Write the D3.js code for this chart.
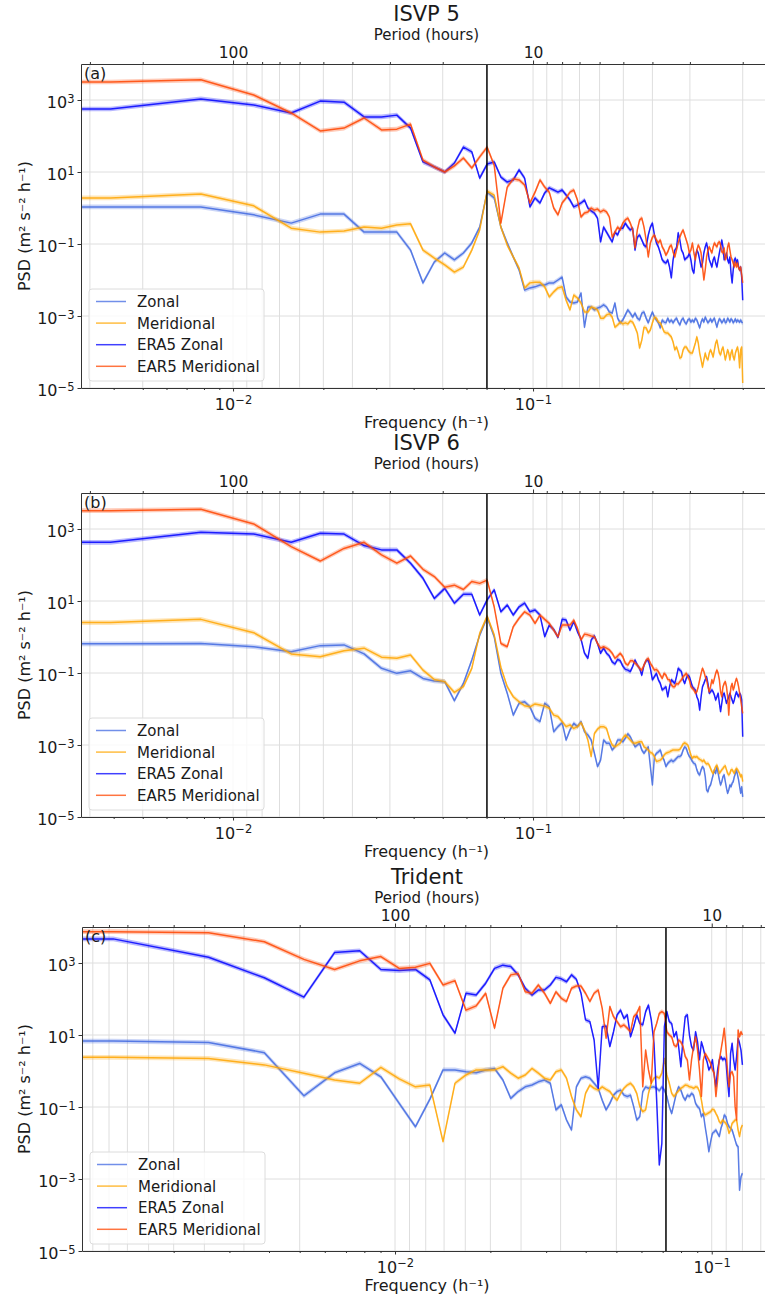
<!DOCTYPE html>
<html><head><meta charset="utf-8">
<script src="https://cdn.jsdelivr.net/npm/d3@7"></script>
<style>
body{margin:0;background:#fff}
text{font-family:"DejaVu Sans",sans-serif;fill:#1a1a1a}
</style>
</head><body>
<svg id="fig" width="765" height="1298"></svg>
<script>
// ---------------- DATA (log10 of PSD, m^2 s^-2 h^-1) ----------------
// ISVP 5 / ISVP 6: frequency bins k/256 h^-1, k = 1..128
const freqStepISVP = 1 / 256;
// Trident: frequency bins k*(0.125/97) h^-1, k = 1..97
const freqStepTrident = 0.125 / 97;

const seriesNames = ["Zonal", "Meridional", "ERA5 Zonal", "EAR5 Meridional"];

const isvp5ZonalLog = [0.03,0.03,-0.19,-0.42,-0.17,-0.17,-0.67,-0.67,-0.67,-1.17,
 -2.08,-1.50,-1.25,-1.44,-1.25,-0.97,-0.53,0.44,0.28,-0.53,
 -0.97,-1.36,-1.72,-2.28,-2.22,-2.19,-2.14,-2.14,-2.08,-2.08,
 -2.00,-1.92,-2.47,-2.61,-2.64,-2.61,-2.36,-3.31,-2.75,-2.75,
 -2.83,-2.78,-2.75,-2.69,-2.75,-2.89,-2.92,-2.64,-3.06,-3.19,
 -3.11,-2.97,-2.83,-2.92,-3.03,-2.92,-3.06,-3.11,-2.92,-2.89,
 -3.06,-3.19,-3.03,-2.89,-3.03,-3.11,-3.19,-3.33,-3.11,-3.17,
 -3.19,-3.06,-3.17,-3.11,-3.19,-3.11,-3.06,-3.17,-3.25,-3.11,
 -3.06,-3.17,-3.22,-3.11,-3.08,-3.17,-3.11,-3.17,-3.06,-3.11,
 -3.22,-3.33,-3.17,-3.08,-3.17,-3.03,-3.11,-3.19,-3.14,-3.08,
 -3.17,-3.11,-3.06,-3.19,-3.31,-3.17,-3.08,-3.11,-3.19,-3.14,
 -3.08,-3.19,-3.17,-3.06,-3.11,-3.17,-3.08,-3.11,-3.19,-3.14,
 -3.08,-3.17,-3.11,-3.14,-3.17,-3.11,-3.17,-3.19];
const isvp5MeridLog = [0.28,0.39,0.06,-0.56,-0.67,-0.64,-0.53,-0.56,-0.47,-0.44,
 -1.17,-1.39,-1.58,-1.78,-1.64,-1.17,-0.61,0.47,0.36,-0.53,
 -1.03,-1.36,-1.67,-2.22,-2.08,-2.06,-2.06,-2.19,-2.47,-2.33,
 -2.22,-2.19,-2.56,-2.83,-2.42,-2.50,-2.64,-2.89,-2.89,-2.75,
 -2.78,-2.83,-3.06,-3.06,-2.97,-2.94,-3.03,-3.31,-3.25,-3.17,
 -3.22,-3.19,-3.22,-3.14,-3.17,-3.31,-3.47,-3.89,-3.67,-3.31,
 -3.33,-3.47,-3.39,-3.19,-3.03,-3.06,-3.17,-3.19,-3.31,-3.44,
 -3.47,-3.47,-3.53,-3.58,-3.72,-3.94,-3.86,-4.00,-4.17,-4.14,
 -3.94,-3.86,-3.86,-3.94,-4.00,-4.03,-4.03,-3.89,-3.75,-3.58,
 -3.75,-4.03,-4.22,-4.42,-4.22,-4.03,-4.17,-4.22,-4.03,-3.94,
 -4.03,-4.14,-3.94,-3.75,-3.67,-3.86,-4.03,-4.08,-3.94,-3.86,
 -4.03,-4.22,-4.08,-3.94,-4.03,-4.22,-4.03,-3.94,-4.14,-4.22,
 -4.03,-3.94,-3.86,-4.03,-4.44,-3.94,-3.86,-4.86];
const isvp5Era5ZonalLog = [2.75,3.03,2.86,2.64,2.97,2.94,2.53,2.53,2.58,2.22,
 1.28,1.14,1.00,1.25,1.69,1.56,0.83,1.22,1.28,0.86,
 0.72,0.78,1.06,0.83,0.03,0.28,0.14,0.42,0.56,0.50,
 0.44,0.50,0.36,0.22,0.03,0.08,0.14,0.22,0.00,-0.08,
 -0.14,-0.28,-0.94,-0.53,-0.67,-0.81,-0.94,-0.67,-0.75,-0.56,
 -0.56,-0.42,-0.53,-0.61,-0.56,-1.17,-0.81,-0.75,-0.89,-1.03,
 -1.08,-0.75,-0.53,-0.42,-0.75,-0.97,-1.08,-1.25,-1.44,-1.50,
 -1.53,-1.44,-1.64,-1.94,-1.44,-1.17,-1.11,-0.69,-0.89,-1.17,
 -1.25,-1.44,-1.39,-1.36,-1.25,-1.44,-1.72,-1.81,-1.36,-1.17,
 -1.25,-1.44,-1.64,-1.53,-1.25,-1.08,-0.97,-1.17,-1.44,-1.53,
 -1.64,-1.44,-1.36,-1.53,-1.64,-1.44,-1.25,-1.08,-0.89,-1.08,
 -1.44,-1.36,-1.25,-1.44,-1.53,-1.36,-1.81,-2.08,-1.72,-1.44,
 -1.39,-1.53,-1.44,-1.64,-1.72,-1.64,-1.92,-2.56];
const isvp5Era5MeridLog = [3.50,3.56,3.14,2.64,2.14,2.22,2.50,2.17,2.19,2.33,
 1.33,1.14,1.00,1.17,1.39,1.11,1.42,1.69,1.19,-0.42,
 0.58,0.81,0.78,0.64,0.14,0.44,0.78,0.58,0.44,0.00,
 -0.19,0.14,0.28,0.44,0.50,0.22,-0.25,-0.14,-0.11,0.00,
 -0.06,-0.03,-0.11,-0.06,-0.11,-0.25,-0.81,-0.67,-0.53,-0.61,
 -0.42,-0.33,-0.28,-0.42,-0.61,-1.11,-0.61,-0.33,-0.28,-0.53,
 -0.89,-1.36,-0.97,-0.81,-0.75,-0.89,-0.97,-0.89,-1.08,-1.17,
 -1.31,-1.22,-1.08,-1.03,-1.22,-1.36,-1.17,-0.97,-0.81,-0.69,
 -0.61,-0.75,-0.89,-1.03,-1.25,-1.17,-0.97,-1.25,-1.44,-1.17,
 -1.03,-1.11,-1.25,-1.64,-2.00,-1.72,-1.36,-1.17,-1.08,-1.17,
 -1.25,-1.08,-0.97,-1.03,-1.08,-0.97,-0.94,-1.03,-1.22,-1.25,
 -1.11,-1.44,-1.36,-1.08,-0.97,-1.17,-1.36,-1.44,-1.53,-1.64,
 -1.50,-1.64,-1.53,-1.67,-1.72,-1.64,-1.86,-2.08];

const isvp6ZonalLog = [-0.19,-0.18,-0.27,-0.41,-0.24,-0.22,-0.47,-0.87,-1.01,-0.94,
 -1.15,-1.22,-1.24,-1.77,-1.29,-0.64,0.05,0.55,0.01,-1.01,
 -1.56,-2.17,-1.84,-1.80,-1.94,-2.26,-2.35,-1.84,-1.94,-2.63,
 -2.49,-2.38,-2.86,-2.58,-2.40,-2.49,-2.35,-2.63,-2.72,-2.86,
 -3.23,-3.60,-3.42,-2.86,-2.95,-2.95,-3.14,-3.05,-2.86,-2.86,
 -2.91,-2.81,-2.69,-2.77,-2.91,-3.05,-3.00,-2.95,-3.14,-3.23,
 -3.14,-3.05,-3.60,-4.11,-3.32,-3.23,-3.19,-3.14,-3.32,-3.42,
 -3.60,-3.51,-3.46,-3.42,-3.46,-3.42,-3.37,-3.32,-3.32,-3.28,
 -3.14,-3.05,-3.09,-3.23,-3.32,-3.37,-3.46,-3.51,-3.53,-3.69,
 -3.79,-3.83,-3.69,-3.60,-3.65,-3.88,-4.25,-4.30,-4.16,-4.11,
 -3.97,-3.83,-3.69,-3.79,-3.60,-3.79,-3.97,-4.11,-4.02,-3.88,
 -3.83,-4.02,-4.20,-4.34,-4.25,-4.11,-4.16,-4.06,-4.02,-3.88,
 -3.79,-3.69,-3.83,-3.97,-4.16,-4.34,-4.16,-4.44];
const isvp6MeridLog = [0.40,0.49,0.12,-0.47,-0.55,-0.38,-0.31,-0.56,-0.59,-0.50,
 -0.92,-1.18,-1.24,-1.54,-1.38,-0.87,0.10,0.58,0.06,-0.84,
 -1.38,-1.66,-1.80,-1.91,-1.94,-1.86,-1.89,-1.92,-1.98,-2.17,
 -2.21,-2.35,-2.49,-2.44,-2.54,-2.49,-2.38,-2.58,-2.86,-3.32,
 -2.68,-2.56,-2.49,-2.49,-2.54,-2.81,-3.00,-3.05,-3.00,-2.95,
 -2.81,-2.72,-2.79,-2.86,-2.94,-2.95,-2.93,-2.91,-2.91,-3.05,
 -3.09,-3.14,-3.21,-3.23,-3.32,-3.46,-3.44,-3.42,-3.37,-3.28,
 -3.23,-3.21,-3.19,-3.16,-3.14,-3.14,-3.14,-3.14,-3.12,-3.05,
 -2.97,-2.94,-2.97,-3.00,-3.14,-3.28,-3.37,-3.32,-3.34,-3.32,
 -3.37,-3.40,-3.42,-3.46,-3.42,-3.49,-3.53,-3.51,-3.56,-3.65,
 -3.74,-3.79,-3.69,-3.60,-3.56,-3.65,-3.79,-3.74,-3.69,-3.65,
 -3.60,-3.58,-3.69,-3.79,-3.83,-3.79,-3.69,-3.68,-3.74,-3.79,
 -3.69,-3.65,-3.68,-3.74,-3.79,-3.88,-3.83,-4.02];
const isvp6Era5ZonalLog = [2.63,2.91,2.86,2.63,2.88,2.86,2.54,2.42,2.42,2.05,
 1.63,1.07,1.35,0.94,1.19,1.19,0.61,1.03,1.31,0.70,
 0.89,0.61,0.84,0.94,0.70,0.75,0.61,0.01,0.33,0.21,
 -0.01,0.49,0.47,0.19,0.43,0.15,-0.06,-0.45,-0.59,-0.08,
 0.03,-0.18,-0.45,-0.31,-0.45,-0.53,-0.69,-0.75,-0.62,-0.66,
 -0.81,-0.90,-0.92,-0.96,-0.82,-0.64,-0.78,-0.87,-1.06,-0.78,
 -0.66,-0.64,-0.87,-1.19,-1.10,-1.01,-1.19,-1.29,-1.47,-1.43,
 -1.38,-1.66,-1.38,-1.19,-1.24,-1.29,-1.10,-0.87,-0.92,-0.96,
 -1.19,-1.29,-1.15,-1.06,-1.10,-1.24,-1.38,-1.43,-1.47,-1.66,
 -1.75,-2.03,-1.66,-1.38,-1.29,-1.19,-1.10,-1.29,-1.56,-1.52,
 -1.47,-1.52,-1.61,-1.75,-1.66,-1.56,-1.84,-2.07,-1.84,-1.61,
 -1.56,-1.70,-1.84,-1.75,-1.66,-1.56,-1.66,-1.75,-1.84,-1.75,
 -1.61,-1.52,-1.61,-1.66,-1.56,-1.61,-1.75,-2.77];
const isvp6Era5MeridLog = [3.51,3.55,3.14,2.51,2.11,2.46,2.63,2.28,2.05,2.25,
 1.88,1.68,1.38,1.44,1.32,1.54,1.49,1.58,0.84,-0.18,
 -0.27,0.29,0.52,0.70,0.61,0.38,0.61,0.49,0.38,0.19,
 0.01,0.33,0.33,0.33,0.47,0.24,-0.08,0.08,0.06,0.03,
 0.01,-0.18,-0.31,-0.27,-0.31,-0.36,-0.45,-0.59,-0.53,-0.45,
 -0.55,-0.73,-0.78,-0.66,-0.66,-0.73,-0.78,-0.87,-0.92,-0.78,
 -0.64,-0.59,-0.73,-0.82,-0.92,-0.90,-0.96,-1.06,-1.15,-1.01,
 -1.06,-1.18,-1.19,-1.33,-1.38,-1.38,-1.29,-1.31,-1.24,-1.19,
 -1.10,-1.06,-1.01,-1.10,-1.19,-1.38,-1.43,-1.47,-1.56,-1.52,
 -1.38,-1.19,-1.01,-0.87,-0.96,-1.10,-1.19,-1.38,-1.52,-1.38,
 -1.19,-1.29,-1.15,-1.01,-0.92,-1.01,-1.19,-1.52,-1.66,-1.38,
 -1.29,-1.24,-1.38,-1.66,-2.17,-1.66,-1.38,-1.29,-1.47,-1.38,
 -1.24,-1.15,-1.24,-1.38,-1.56,-1.75,-1.94,-2.12];

const tridentZonalLog = [0.83,0.79,0.51,-0.69,-0.05,0.21,-0.16,-0.90,-1.55,-0.78,
 0.03,0.03,-0.02,-0.05,0.03,0.07,-0.25,-0.76,-0.57,-0.44,
 -0.39,-0.30,-0.25,-0.34,-1.08,-0.94,-1.36,-1.64,-0.44,-0.20,
 -0.16,-0.20,-0.34,-0.48,-0.81,-1.08,-0.90,-0.67,-0.57,-0.53,
 -0.67,-0.71,-0.67,-0.99,-1.36,-1.27,-0.57,-0.44,-0.48,-0.45,
 -0.44,-0.48,-0.55,-0.44,-0.53,-0.71,-0.99,-1.18,-0.90,-0.62,
 -0.44,-0.53,-0.71,-0.81,-0.67,-0.71,-0.62,-0.67,-0.90,-0.99,
 -1.04,-1.27,-1.18,-1.55,-1.87,-2.24,-1.96,-1.73,-1.69,-1.64,
 -1.73,-1.82,-1.59,-1.45,-1.22,-1.27,-1.45,-1.55,-1.59,-1.64,
 -1.78,-1.92,-2.06,-2.10,-3.31,-2.94,-2.84];
const tridentMeridLog = [0.38,0.35,0.17,-0.06,-0.25,-0.34,0.10,-0.22,-0.44,-0.39,
 -1.96,-0.34,-0.11,0.03,0.03,0.03,0.12,-0.06,-0.20,-0.11,
 0.07,-0.06,-0.20,-0.25,-0.02,0.03,-0.20,-0.71,-1.08,-1.27,
 -0.62,-0.39,-0.48,-0.53,-0.44,-0.51,-0.57,-0.71,-0.81,-0.62,
 -0.48,-0.39,-0.34,-0.44,-0.62,-0.99,-1.13,-1.08,-0.62,-0.34,
 -0.20,-0.16,-0.20,-0.06,0.35,-0.11,-0.34,-0.62,-0.71,-0.62,
 -0.55,-0.48,-0.44,-0.39,-0.40,-0.44,-0.45,-0.48,-0.44,-0.45,
 -0.57,-0.81,-1.13,-1.22,-1.19,-1.16,-1.13,-1.06,-1.08,-1.18,
 -1.27,-1.41,-1.45,-1.36,-1.41,-1.45,-1.55,-1.73,-1.64,-1.45,
 -1.41,-1.36,-1.36,-1.64,-1.82,-1.59,-1.50];
const tridentEra5ZonalLog = [3.67,3.16,2.59,2.05,3.29,3.34,2.82,2.79,2.82,2.53,
 1.56,1.05,2.16,2.11,2.44,2.85,2.94,2.90,2.67,2.30,
 2.11,2.25,2.25,2.39,2.60,2.56,2.48,2.67,2.55,2.16,
 1.42,1.37,0.86,-0.48,1.23,1.25,0.68,1.09,1.56,1.69,
 1.46,1.56,0.95,1.23,1.56,1.32,1.28,1.65,1.83,1.42,
 0.77,-0.81,-2.61,-2.01,1.23,1.65,1.37,1.32,0.95,1.09,
 0.68,0.12,0.91,1.51,1.56,1.00,0.68,0.58,1.09,0.81,
 0.31,0.81,0.63,0.40,0.26,0.03,0.12,0.31,-0.11,-0.44,
 0.03,0.31,0.40,0.31,0.35,0.31,-0.25,-0.71,0.49,0.77,
 0.31,0.03,0.40,0.91,0.77,0.58,0.17];
const tridentEra5MeridLog = [3.87,3.84,3.59,3.10,2.82,3.06,3.18,2.85,2.88,2.99,
 2.39,2.51,1.69,1.81,2.16,1.19,2.30,2.67,2.71,2.20,
 2.16,2.39,2.16,1.88,2.20,2.02,1.93,2.30,2.36,2.36,
 2.16,1.93,2.16,2.25,1.74,0.91,1.79,1.51,1.37,1.23,
 1.28,1.19,1.09,1.51,1.60,1.79,-0.44,0.58,0.03,-0.34,
 1.09,1.32,1.60,1.65,1.60,1.09,1.00,0.95,0.72,0.68,
 0.86,0.81,0.68,0.40,0.31,-0.25,0.31,0.68,0.95,0.58,
 0.03,-0.71,0.31,0.49,0.40,0.31,0.21,0.03,-0.06,-0.71,
 -0.25,0.31,0.58,0.86,1.19,0.68,0.03,-0.44,-0.06,-0.02,
 -0.16,-0.99,-1.36,1.14,0.95,1.09,1.00];

// reference (inertial) frequency marked by the vertical line, h^-1
const markerFreqISVP = 0.0702;
const markerFreqTrident = 0.0717;

// tick values
const yTickValues = [1e-5, 1e-3, 1e-1, 1e1, 1e3];
const freqMajorTicks = [0.01, 0.1];
const freqMinorTicks = [0.002,0.003,0.004,0.005,0.006,0.007,0.008,0.009,
                        0.02,0.03,0.04,0.05,0.06,0.07,0.08,0.09,0.2,0.3,0.4,0.5,0.6];
const periodMajorTicks = [10, 100];
const periodMinorTicks = [2,3,4,5,6,7,8,9,20,30,40,50,60,70,80,90,200,300,400,500,600,700,800,900];

// ---------------- STYLE / LAYOUT ----------------
const seriesColors = ["#4169e1", "#ffa500", "#0000ff", "#ff4500"];
const panelH = 324;
const panels = [
  {label:"(a)", title:"ISVP 5", top:64, left:81, right:772, xDomain:[0.003113, 0.626],
   step:freqStepISVP, marker:markerFreqISVP,
   series:[isvp5ZonalLog, isvp5MeridLog, isvp5Era5ZonalLog, isvp5Era5MeridLog]},
  {label:"(b)", title:"ISVP 6", top:493, left:81, right:772, xDomain:[0.003113, 0.626],
   step:freqStepISVP, marker:markerFreqISVP,
   series:[isvp6ZonalLog, isvp6MeridLog, isvp6Era5ZonalLog, isvp6Era5MeridLog]},
  {label:"(c)", title:"Trident", top:927, left:82, right:772, xDomain:[0.001027, 0.155],
   step:freqStepTrident, marker:markerFreqTrident,
   series:[tridentZonalLog, tridentMeridLog, tridentEra5ZonalLog, tridentEra5MeridLog]}
];

const svg = d3.select("#fig");
const spineColor = "#333";
const gridColor = "#dedede";
const bandFactor = 1.16;

function expLabel(sel, e) {
  sel.text("10");
  sel.append("tspan").attr("dy", "-0.48em").attr("font-size", "0.72em")
     .text(e < 0 ? "\u2212" + (-e) : String(e));
}

panels.forEach((p, pi) => {
  const bottom = p.top + panelH;
  const x = d3.scaleLog().domain(p.xDomain).range([p.left, p.right]);
  const y = d3.scaleLog().domain([1e-5, 1e4]).range([bottom, p.top]);
  const inX = f => f >= p.xDomain[0] && f <= p.xDomain[1];

  const clipId = "clip" + pi;
  svg.append("clipPath").attr("id", clipId).append("rect")
     .attr("x", p.left).attr("y", p.top).attr("width", p.right - p.left).attr("height", panelH);

  const g = svg.append("g");

  // grid: vertical lines at period ticks, horizontal at y major ticks
  const periods = periodMajorTicks.concat(periodMinorTicks).filter(per => inX(1 / per));
  g.append("g").selectAll("line").data(periods).join("line")
    .attr("x1", d => x(1 / d)).attr("x2", d => x(1 / d))
    .attr("y1", p.top).attr("y2", bottom)
    .attr("stroke", gridColor).attr("stroke-width", 1);
  g.append("g").selectAll("line").data(yTickValues).join("line")
    .attr("x1", p.left).attr("x2", p.right)
    .attr("y1", d => y(d)).attr("y2", d => y(d))
    .attr("stroke", gridColor).attr("stroke-width", 1);

  // series
  const plotG = g.append("g").attr("clip-path", `url(#${clipId})`);
  p.series.forEach((arr, si) => {
    const pts = arr.map((v, i) => [(i + 1) * p.step, Math.pow(10, v)]);
    pts.unshift([p.xDomain[0], pts[0][1]]);
    const band = d3.area().x(d => x(d[0])).y0(d => y(d[1] / bandFactor)).y1(d => y(d[1] * bandFactor));
    const line = d3.line().x(d => x(d[0])).y(d => y(d[1]));
    plotG.append("path").attr("d", band(pts)).attr("fill", seriesColors[si]).attr("opacity", 0.28);
    plotG.append("path").attr("d", line(pts)).attr("fill", "none")
      .attr("stroke", seriesColors[si]).attr("stroke-width", 1.5)
      .attr("stroke-opacity", 0.85).attr("stroke-linejoin", "round");
  });

  // vertical marker line
  g.append("line").attr("x1", x(p.marker)).attr("x2", x(p.marker))
    .attr("y1", p.top).attr("y2", bottom).attr("stroke", "#000").attr("stroke-width", 1.5);

  // axes
  const styleAxis = (ag, size) => {
    ag.attr("font-family", null).attr("font-size", null);
    ag.select(".domain").attr("stroke", spineColor).attr("stroke-width", 1);
    ag.selectAll(".tick line").attr("stroke", spineColor).attr("stroke-width", 1);
    ag.selectAll(".tick text").attr("font-size", size + "px").attr("fill", "#1a1a1a");
  };

  // left
  const ay = g.append("g").attr("transform", `translate(${p.left},0)`)
    .call(d3.axisLeft(y).tickValues(yTickValues).tickSize(3.5).tickSizeOuter(0).tickPadding(3));
  styleAxis(ay, 16);
  ay.selectAll(".tick text").attr("dy", "0.47em").each(function(d) {
    expLabel(d3.select(this), Math.round(Math.log10(d)));
  });

  // bottom major + minor
  const axb = g.append("g").attr("transform", `translate(0,${bottom})`)
    .call(d3.axisBottom(x).tickValues(freqMajorTicks).tickSize(3.5).tickSizeOuter(0));
  styleAxis(axb, 16);
  axb.selectAll(".tick text").attr("y", 22).attr("dy", 0).each(function(d) {
    expLabel(d3.select(this), Math.round(Math.log10(d)));
  });
  const axbm = g.append("g").attr("transform", `translate(0,${bottom})`)
    .call(d3.axisBottom(x).tickValues(freqMinorTicks.filter(inX)).tickSize(2).tickSizeOuter(0).tickFormat(""));
  styleAxis(axbm, 16);
  axbm.select(".domain").remove();

  // top (period) major + minor
  const axt = g.append("g").attr("transform", `translate(0,${p.top})`)
    .call(d3.axisTop(x).tickValues(periodMajorTicks.map(per => 1 / per).filter(inX))
      .tickSize(3.5).tickSizeOuter(0).tickFormat(f => String(Math.round(1 / f))));
  styleAxis(axt, 15.5);
  axt.selectAll(".tick text").attr("y", -5.8).attr("dy", 0);
  const axtm = g.append("g").attr("transform", `translate(0,${p.top})`)
    .call(d3.axisTop(x).tickValues(periodMinorTicks.map(per => 1 / per).filter(inX))
      .tickSize(2).tickSizeOuter(0).tickFormat(""));
  styleAxis(axtm, 16);
  axtm.select(".domain").remove();

  // right spine
  g.append("line").attr("x1", p.right).attr("x2", p.right).attr("y1", p.top).attr("y2", bottom)
    .attr("stroke", spineColor);

  // texts
  const cx = (p.left + p.right) / 2;
  g.append("text").attr("x", cx).attr("y", p.top - 43).attr("text-anchor", "middle")
    .attr("font-size", "21px").text(p.title);
  g.append("text").attr("x", cx).attr("y", p.top - 23.8).attr("text-anchor", "middle")
    .attr("font-size", "15px").text("Period (hours)");
  g.append("text").attr("x", cx).attr("y", bottom + 40).attr("text-anchor", "middle")
    .attr("font-size", "16px").text("Frequency (h\u207B\u00B9)");
  g.append("text").attr("transform", `translate(30,${p.top + panelH / 2}) rotate(-90)`)
    .attr("text-anchor", "middle").attr("font-size", "16px")
    .text("PSD (m\u00B2 s\u207B\u00B2 h\u207B\u00B9)");
  g.append("text").attr("x", p.left + 3).attr("y", p.top + 15).attr("font-size", "16px").text(p.label);

  // legend
  const lg = g.append("g").attr("transform", `translate(${p.left + 8},${p.top + 225})`);
  lg.append("rect").attr("width", 175).attr("height", 92).attr("rx", 3)
    .attr("fill", "#fff").attr("fill-opacity", 0.8).attr("stroke", "#dcdcdc");
  seriesNames.forEach((name, si) => {
    const yy = 12.5 + si * 21.6;
    lg.append("line").attr("x1", 7).attr("x2", 37).attr("y1", yy).attr("y2", yy)
      .attr("stroke", seriesColors[si]).attr("stroke-width", 1.5).attr("stroke-opacity", 0.75);
    lg.append("text").attr("x", 48).attr("y", yy).attr("dy", "0.36em")
      .attr("font-size", "15px").text(name);
  });
});
</script>
</body></html>
